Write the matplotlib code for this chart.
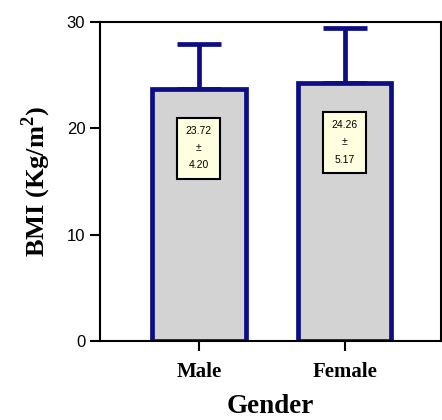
import matplotlib.pyplot as plt

genders = ["Male", "Female"]
bmi_mean = [23.72, 24.26]
bmi_sd = [4.20, 5.17]

navy = "#0d0d85"

fig = plt.figure(figsize=(4.42, 4.20), dpi=100)
ax = fig.add_axes([0.226, 0.188, 0.772, 0.760])

x = range(len(genders))
ax.bar(x, bmi_mean, width=0.64, color="#d3d3d3", edgecolor=navy, linewidth=3.4, zorder=2)
ax.errorbar(x, bmi_mean, yerr=[[0, 0], bmi_sd], fmt="none", ecolor=navy,
            elinewidth=3.4, capsize=16, capthick=3.4, zorder=1)

for xi, m, s in zip(x, bmi_mean, bmi_sd):
    ax.text(xi, m - 3.5, f"{m:.2f}\n\u00b1\n{s:.2f}", ha="center", va="top",
            fontsize=7.5, family="Liberation Sans", linespacing=1.9, zorder=3,
            bbox=dict(boxstyle="square,pad=0.8", facecolor="#ffffe0",
                      edgecolor="black", linewidth=1.5))

ax.set_xlim(-0.678, 1.66)
ax.set_ylim(0, 30)
ax.set_yticks([0, 10, 20, 30])
ax.set_xticks(list(x))
ax.set_xticklabels(genders, family="Liberation Serif", fontweight="bold", fontsize=15)
for lbl in ax.get_yticklabels():
    lbl.set_family("Liberation Sans")
    lbl.set_fontsize(12)
ax.tick_params(axis="both", width=1.5, length=7, color="black")
ax.tick_params(axis="x", pad=8)
for sp in ax.spines.values():
    sp.set_linewidth(1.5)

ax.set_ylabel("BMI (Kg/m$^{\\mathregular{2}}$)", family="Liberation Serif",
              fontweight="bold", fontsize=19, labelpad=10)
ax.set_xlabel("Gender", family="Liberation Serif", fontweight="bold",
              fontsize=19.5, labelpad=9)

fig.savefig("out.png", dpi=100)
